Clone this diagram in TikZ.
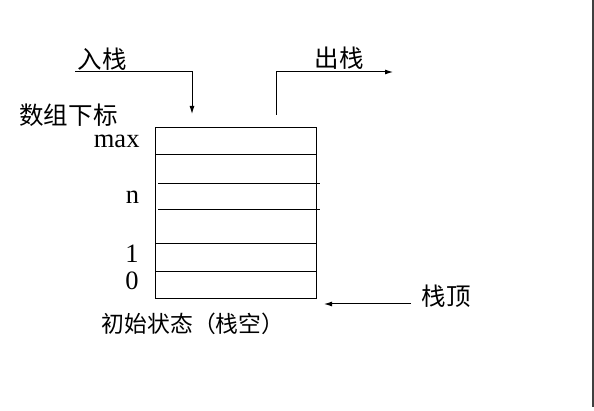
\documentclass[tikz,border=0pt]{standalone}
\usepackage{fontspec}
\setmainfont{Liberation Serif}
\newfontfamily\cjk{Noto Sans CJK SC}
\usetikzlibrary{arrows.meta}
\begin{document}
\begin{tikzpicture}[x=1pt,y=-1pt,line width=1pt,
  cjklabel/.style={inner sep=0pt,font=\cjk\fontsize{24.5}{25}\selectfont},
  idx/.style={inner sep=0pt,anchor=base east,font=\fontsize{26.5}{27}\selectfont},
  arr/.style={-{Latex[length=8pt,width=5pt]}}]
\useasboundingbox (0,0) rectangle (594,411);
\fill[white] (0,0) rectangle (594,411);
% right border
\draw[black!75, line width=1.2pt] (593,0) -- (593,407);
% stack box
\draw (155,128) rectangle (316.5,299);
\draw (155,155) -- (316.5,155);
\draw (158,183.5) -- (320,183.5);
\draw (158,209.5) -- (320,209.5);
\draw (155,243.5) -- (316.5,243.5);
\draw (155,271.5) -- (316.5,271.5);
% index labels
\node[idx] (lmax) at (140,148) {max};
\node[idx] (ln) at (139.5,204) {n};
\node[idx] (l1) at (139,263) {1};
\node[idx] (l0) at (139,290) {0};
% chinese labels
\node[cjklabel] (sub) at (68.5,115) {数组下标};
\node[cjklabel] (push) at (102,59) {入栈};
\node[cjklabel] (pop) at (339,58) {出栈};
\node[cjklabel] (top) at (446,296) {栈顶};
\node[cjklabel,font=\cjk\fontsize{22.8}{23}\selectfont] (init) at (193,324) {初始状态（栈空）};
% connectors
\coordinate (pushA) at (75,72);
\coordinate (pushB) at (192,72);
\coordinate (pushC) at (192,114);
\draw[arr] (pushA) -- (pushB) -- (pushC);
\coordinate (popA) at (276,115);
\coordinate (popB) at (276,72);
\coordinate (popC) at (393,72);
\draw[arr] (popA) -- (popB) -- (popC);
\coordinate (topA) at (411,304);
\coordinate (topB) at (324,304);
\draw[arr] (topA) -- (topB);
\end{tikzpicture}
\end{document}
